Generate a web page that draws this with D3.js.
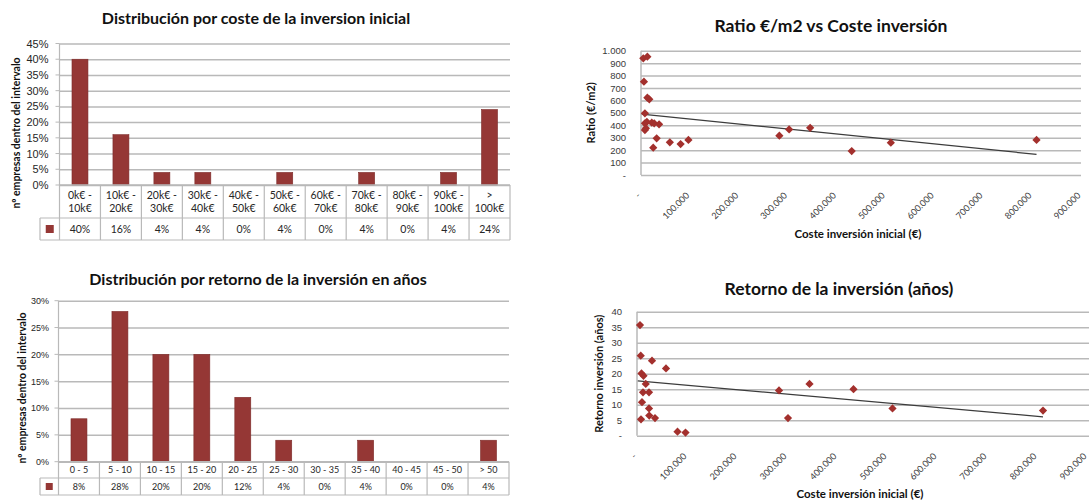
<!DOCTYPE html>
<html>
<head>
<meta charset="utf-8">
<script src="https://cdn.jsdelivr.net/npm/d3@7"></script>
<style>
  html, body { margin: 0; padding: 0; background: #fff; }
  svg { display: block; font-family: Lato, "Liberation Sans", sans-serif; }
</style>
</head>
<body>
<svg id="chart" width="1089" height="504"></svg>
<script>
// ---- Distribución por coste de la inversión inicial ----
const costRanges = ["0k€ - 10k€", "10k€ - 20k€", "20k€ - 30k€", "30k€ - 40k€", "40k€ - 50k€",
  "50k€ - 60k€", "60k€ - 70k€", "70k€ - 80k€", "80k€ - 90k€", "90k€ - 100k€", "> 100k€"];
const costShares = [0.40, 0.16, 0.04, 0.04, 0.00, 0.04, 0.00, 0.04, 0.00, 0.04, 0.24];
const costShareTicks = [0, 0.05, 0.10, 0.15, 0.20, 0.25, 0.30, 0.35, 0.40, 0.45];

// ---- Distribución por retorno de la inversión en años ----
const paybackRanges = ["0 - 5", "5 - 10", "10 - 15", "15 - 20", "20 - 25", "25 - 30",
  "30 - 35", "35 - 40", "40 - 45", "45 - 50", "> 50"];
const paybackShares = [0.08, 0.28, 0.20, 0.20, 0.12, 0.04, 0.00, 0.04, 0.00, 0.00, 0.04];
const paybackShareTicks = [0, 0.05, 0.10, 0.15, 0.20, 0.25, 0.30];

// ---- Ratio €/m2 frente a coste de inversión ----
const ratioCost  = [4700, 13000, 6000, 13000, 17000, 8000, 8000, 12000, 10000, 8000, 22000, 27000,
  37000, 32000, 25000, 59000, 81000, 97000, 283000, 303000, 346000, 431000, 511000, 809000];
const ratioValue = [939, 952, 751, 622, 609, 496, 416, 428, 376, 362, 421, 416,
  408, 295, 220, 263, 249, 282, 316, 367, 380, 193, 260, 282];
const ratioTrendCost  = [1500, 809000];
const ratioTrendValue = [490, 166];
const ratioTicks = [0, 100, 200, 300, 400, 500, 600, 700, 800, 900, 1000];

// ---- Retorno de la inversión (años) frente a coste ----
const paybackCost  = [6000, 7500, 30000, 58000, 9000, 13000, 17500, 12000, 24000, 10000, 24000,
  24500, 36000, 8000, 81000, 97000, 284000, 302000, 345000, 433000, 511000, 812000];
const paybackYears = [35.7, 25.8, 24.2, 21.7, 20.1, 19.3, 16.7, 14.0, 14.0, 10.8, 8.8,
  6.5, 5.7, 5.3, 1.3, 1.0, 14.6, 5.7, 16.7, 15.0, 8.8, 8.1];
const paybackTrendCost  = [1500, 812000];
const paybackTrendYears = [17.7, 6.1];
const paybackTicks = [0, 5, 10, 15, 20, 25, 30, 35, 40];

const costTicks = [0, 100000, 200000, 300000, 400000, 500000, 600000, 700000, 800000, 900000];

// ---- shared styling ----
const BAR = "#953735";
const MARK = "#a3302d";
const GRID = "#b9b9b9";
const TEXT = "#262626";

const svg = d3.select("#chart");
svg.append("rect").attr("width", 1089).attr("height", 504).attr("fill", "#fff");

const pct = d3.format(".0%");
const thousands = d3.formatLocale({ decimal: ",", thousands: ".", grouping: [3], currency: ["", "€"] }).format(",");
const dashZero = d => d === 0 ? "-" : thousands(d);

function title(text, x, y, size) {
  svg.append("text").attr("x", x).attr("y", y).attr("text-anchor", "middle")
    .attr("dominant-baseline", "central").attr("font-weight", "bold")
    .attr("font-size", size).attr("fill", "#111").text(text);
}

function yTitle(text, x, y, size) {
  svg.append("text").attr("transform", `translate(${x},${y}) rotate(-90)`)
    .attr("text-anchor", "middle").attr("dominant-baseline", "central")
    .attr("font-weight", "bold").attr("font-size", size).attr("fill", "#111").text(text);
}

// Column chart with a data table underneath (category row + value row)
function barTable(cfg) {
  const g = svg.append("g");
  const x = d3.scaleBand().domain(cfg.categories).range([cfg.left, cfg.right]).padding(0);
  const y = d3.scaleLinear().domain([0, cfg.max]).range([cfg.bottom, cfg.top]);

  // gridlines + percent labels
  const ax = g.append("g").attr("transform", `translate(${cfg.left},0)`)
    .call(d3.axisLeft(y).tickValues(cfg.ticks).tickFormat(pct)
      .tickSizeInner(-(cfg.right - cfg.left)).tickSizeOuter(0).tickPadding(cfg.labelPad));
  ax.select(".domain").remove();
  ax.selectAll(".tick line").attr("stroke", GRID).attr("stroke-width", 1.5);
  ax.selectAll(".tick text").attr("font-size", cfg.tickSize).attr("fill", TEXT);
  // small outward ticks
  g.selectAll("line.otick").data(cfg.ticks).join("line")
    .attr("x1", cfg.left - 4).attr("x2", cfg.left)
    .attr("y1", d => y(d)).attr("y2", d => y(d))
    .attr("stroke", GRID).attr("stroke-width", 1);

  // bars
  const bw = x.bandwidth() * 0.39;
  g.selectAll("rect.bar").data(cfg.values).join("rect")
    .attr("x", (d, i) => x(cfg.categories[i]) + (x.bandwidth() - bw) / 2)
    .attr("y", d => y(d)).attr("width", bw).attr("height", d => cfg.bottom - y(d))
    .attr("fill", BAR).attr("stroke", "#7d2c2a").attr("stroke-width", 0.6);

  // table grid
  const tl = g.append("g").attr("stroke", GRID).attr("stroke-width", 1.2);
  tl.append("line").attr("x1", cfg.left).attr("x2", cfg.left).attr("y1", cfg.top).attr("y2", cfg.row2);
  tl.append("line").attr("x1", cfg.keyLeft).attr("x2", cfg.right).attr("y1", cfg.row1).attr("y2", cfg.row1);
  tl.append("line").attr("x1", cfg.keyLeft).attr("x2", cfg.right).attr("y1", cfg.row2).attr("y2", cfg.row2);
  tl.append("line").attr("x1", cfg.keyLeft).attr("x2", cfg.keyLeft).attr("y1", cfg.row1).attr("y2", cfg.row2);
  tl.selectAll("line.col").data(cfg.categories).join("line")
    .attr("x1", d => x(d) + x.bandwidth()).attr("x2", d => x(d) + x.bandwidth())
    .attr("y1", cfg.bottom).attr("y2", cfg.row2);
  tl.append("line").attr("x1", cfg.left).attr("x2", cfg.right).attr("y1", cfg.bottom).attr("y2", cfg.bottom)
    .attr("stroke-width", 1.5);

  // category labels
  const cat = g.selectAll("text.cat").data(cfg.categories).join("text")
    .attr("text-anchor", "middle").attr("font-size", cfg.tableSize).attr("fill", TEXT);
  cat.each(function (d) {
    const t = d3.select(this);
    const m = cfg.wrap ? d.match(/^(.*?(?:-|>))\s+(.*)$/) : null;
    const lines = m ? [m[1], m[2]] : [d];
    const cx = x(d) + x.bandwidth() / 2;
    const mid = (cfg.bottom + cfg.row1) / 2;
    const lh = cfg.tableSize * 1.3;
    lines.forEach((s, k) => {
      t.append("tspan").attr("x", cx)
        .attr("y", mid + (k - (lines.length - 1) / 2) * lh)
        .attr("dominant-baseline", "central").text(s);
    });
  });

  // value labels
  g.selectAll("text.val").data(cfg.values).join("text")
    .attr("x", (d, i) => x(cfg.categories[i]) + x.bandwidth() / 2)
    .attr("y", (cfg.row1 + cfg.row2) / 2)
    .attr("text-anchor", "middle").attr("dominant-baseline", "central")
    .attr("font-size", cfg.tableSize).attr("fill", TEXT).text(d => pct(d));

  // legend key
  const kx = (cfg.keyLeft + cfg.left) / 2, ky = (cfg.row1 + cfg.row2) / 2;
  g.append("rect").attr("x", kx - cfg.key / 2).attr("y", ky - cfg.key / 2)
    .attr("width", cfg.key).attr("height", cfg.key).attr("fill", BAR);
}

// Scatter with linear trend line
function scatter(cfg) {
  const g = svg.append("g");
  const x = d3.scaleLinear().domain(cfg.xDomain).range([cfg.left, cfg.left + cfg.xSpan]);
  const y = d3.scaleLinear().domain(cfg.yDomain).range([cfg.bottom, cfg.top]);
  const right = Math.min(1089, cfg.left + cfg.xSpan);

  const ax = g.append("g").attr("transform", `translate(${cfg.left},0)`)
    .call(d3.axisLeft(y).tickValues(cfg.yTicks).tickFormat(dashZero)
      .tickSizeInner(-(right - cfg.left)).tickSizeOuter(0).tickPadding(15));
  ax.select(".domain").remove();
  ax.selectAll(".tick line").attr("stroke", GRID).attr("stroke-width", 1.5);
  ax.selectAll(".tick text").attr("font-size", 9.5).attr("fill", "#3a3a3a");

  g.append("line").attr("x1", cfg.left).attr("x2", cfg.left).attr("y1", cfg.top).attr("y2", cfg.bottom)
    .attr("stroke", GRID).attr("stroke-width", 1.5);

  // rotated cost labels
  g.selectAll("text.xt").data(cfg.xTicks).join("text")
    .attr("transform", d => `translate(${x(d) - 5},${cfg.bottom + 16}) rotate(-45)`)
    .attr("text-anchor", "end").attr("dominant-baseline", "hanging")
    .attr("font-size", 9).attr("fill", "#3a3a3a").text(dashZero);

  // trend line
  const line = d3.line().x(d => x(d[0])).y(d => y(d[1]));
  g.append("path").datum(d3.zip(cfg.trendX, cfg.trendY)).attr("d", line)
    .attr("fill", "none").attr("stroke", "#3c3c3c").attr("stroke-width", 1.2);

  // diamond markers
  const sym = d3.symbol().type(d3.symbolSquare).size(34);
  g.selectAll("path.pt").data(d3.zip(cfg.xs, cfg.ys)).join("path")
    .attr("d", sym)
    .attr("transform", d => `translate(${x(d[0])},${y(d[1])}) rotate(45)`)
    .attr("fill", MARK);

  title(cfg.title, cfg.titleX, cfg.titleY, 17.5);
  yTitle(cfg.yLabel, cfg.yLabelX, (cfg.top + cfg.bottom) / 2, 11);
  svg.append("text").attr("x", cfg.xLabelX).attr("y", cfg.xLabelY)
    .attr("text-anchor", "middle").attr("dominant-baseline", "central")
    .attr("font-weight", "bold").attr("font-size", 11.5).attr("fill", "#111")
    .text("Coste inversión inicial (€)");
}

// top-left
title("Distribución por coste de la inversion inicial", 256, 17, 16);
yTitle("nº empresas dentro del intervalo", 16, 133, 10.5);
barTable({
  categories: costRanges, values: costShares, ticks: costShareTicks, max: 0.45,
  left: 59.5, right: 510, top: 43.5, bottom: 185, row1: 218, row2: 240, keyLeft: 40,
  labelPad: 11, tickSize: 11, tableSize: 10.5, wrap: true, key: 8
});

// bottom-left
title("Distribución por retorno de la inversión en años", 258, 278, 16);
yTitle("nº empresas dentro del intervalo", 22, 388, 10.5);
barTable({
  categories: paybackRanges, values: paybackShares, ticks: paybackShareTicks, max: 0.30,
  left: 58.5, right: 509, top: 300.7, bottom: 461.7, row1: 478, row2: 495, keyLeft: 40,
  labelPad: 9.5, tickSize: 9, tableSize: 9, wrap: false, key: 7
});

// top-right
scatter({
  xs: ratioCost, ys: ratioValue, trendX: ratioTrendCost, trendY: ratioTrendValue,
  xDomain: [0, 900000], yDomain: [0, 1000], xTicks: costTicks, yTicks: ratioTicks,
  left: 641, xSpan: 440, top: 50.7, bottom: 175,
  title: "Ratio €/m2 vs Coste inversión", titleX: 831, titleY: 25,
  yLabel: "Ratio (€/m2)", yLabelX: 590, xLabelX: 858, xLabelY: 233
});

// bottom-right
scatter({
  xs: paybackCost, ys: paybackYears, trendX: paybackTrendCost, trendY: paybackTrendYears,
  xDomain: [0, 1000000], yDomain: [0, 40], xTicks: costTicks, yTicks: paybackTicks,
  left: 637, xSpan: 500, top: 311.7, bottom: 435.7,
  title: "Retorno de la inversión (años)", titleX: 839, titleY: 288,
  yLabel: "Retorno inversión (años)", yLabelX: 598, xLabelX: 860, xLabelY: 493
});
</script>
</body>
</html>
